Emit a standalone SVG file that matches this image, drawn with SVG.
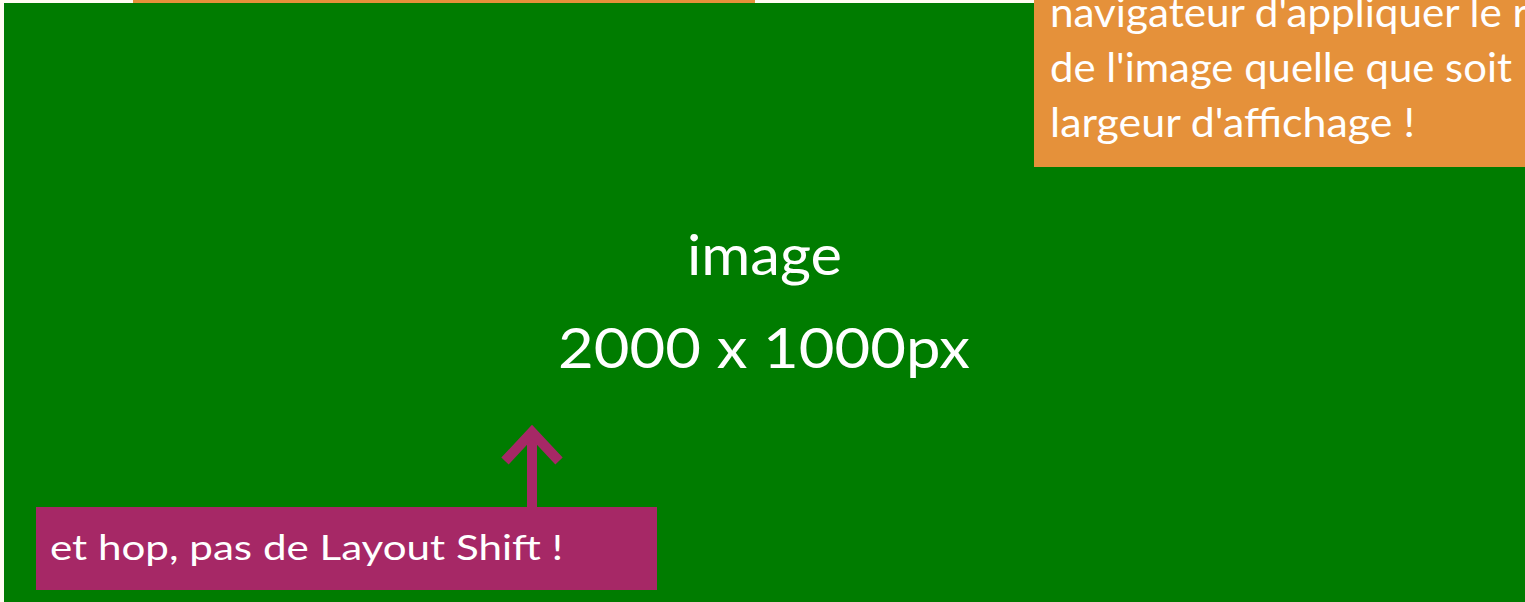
<svg xmlns="http://www.w3.org/2000/svg" width="1525" height="602" viewBox="0 0 1525 602">
<style>
.t{font-family:Lato,"Open Sans","Liberation Sans",sans-serif;fill:#ffffff}
.or{fill:#e5913a}
.pu{fill:#a62866}
</style>
<rect x="0" y="0" width="1525" height="602" fill="#fffdf2"/>
<g id="top-note"><rect class="or" x="133" y="0" width="622" height="4"/></g>
<g id="image"><rect x="4" y="3" width="1521" height="599" fill="#007c00"/>
<text class="t" x="687" y="275" font-size="56" textLength="155" lengthAdjust="spacingAndGlyphs">image</text>
<text class="t" x="558" y="368" font-size="56" textLength="412" lengthAdjust="spacingAndGlyphs">2000 x 1000px</text>
</g>
<g id="note-ratio"><rect class="or" x="1034" y="0" width="491" height="167"/>
<text class="t" x="1050" y="27" font-size="40" textLength="478" lengthAdjust="spacingAndGlyphs">navigateur d'appliquer le r</text>
<text class="t" x="1050" y="82" font-size="40" textLength="462" lengthAdjust="spacingAndGlyphs">de l'image quelle que soit</text>
<text class="t" x="1050" y="137" font-size="40" textLength="365" lengthAdjust="spacingAndGlyphs">largeur d'affichage !</text>
</g>
<g id="connectors">
<line x1="532" y1="434" x2="532" y2="508" stroke="#a62866" stroke-width="10"/>
<polyline points="505,461 532,432 559,461" fill="none" stroke="#a62866" stroke-width="10"/>
</g>
<g id="note-shift"><rect class="pu" x="36" y="507" width="621" height="83"/>
<text class="t" x="50" y="560" font-size="34" textLength="513" lengthAdjust="spacingAndGlyphs">et hop, pas de Layout Shift !</text>
</g>
</svg>
